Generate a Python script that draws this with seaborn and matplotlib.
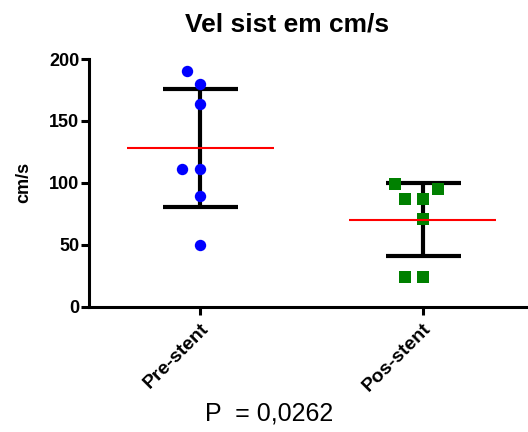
import numpy as np
import pandas as pd
import matplotlib
matplotlib.use("Agg")
import matplotlib.pyplot as plt
import seaborn as sns

# values
groups = ["Pre-stent", "Pos-stent"]
pre_values = [190, 180, 164, 111, 111, 89, 50]
pos_values = [99, 95, 87, 87, 71, 24, 24]
group_means = [128, 70]
group_sds = [47.5, 29.5]
y_ticks = [0, 50, 100, 150, 200]
title_text = "Vel sist em cm/s"
p_text = "P  = 0,0262"

df = pd.DataFrame({
    "group": ["Pre-stent"] * len(pre_values) + ["Pos-stent"] * len(pos_values),
    "value": pre_values + pos_values,
})

sns.set_style("ticks")
plt.rcParams["font.family"] = ["Liberation Sans", "DejaVu Sans"]
plt.rcParams.update({"text.color": "black", "axes.labelcolor": "black",
                     "xtick.color": "black", "ytick.color": "black",
                     "axes.edgecolor": "black"})

fig = plt.figure(figsize=(5.28, 4.32), dpi=100)
ax = fig.add_axes([89 / 528, 1 - 306.5 / 432, (534 - 89) / 528, (306.5 - 59) / 432])

# swarm laid out with a wider spacing (like the original scatter), then markers shrunk
sns.swarmplot(data=df[df.group == "Pre-stent"], x="group", y="value", order=groups,
              color="#0000FF", marker="o", size=12.5, linewidth=0, ax=ax)
sns.swarmplot(data=df[df.group == "Pos-stent"], x="group", y="value", order=groups,
              color="#008000", marker="s", size=12.5, linewidth=0, ax=ax)
ax.set_xlim(-0.5, 1.5)
ax.set_ylim(0, 200)
fig.canvas.draw()
for coll in ax.collections:
    if "draw" in coll.__dict__:
        del coll.draw
    coll.set_sizes([8.2 ** 2])
    coll.set_zorder(3)

# mean and SD
xs = np.arange(len(groups))
ax.errorbar(xs, group_means, yerr=group_sds, fmt="none", ecolor="black",
            elinewidth=3, capsize=27, capthick=3, zorder=2)
ax.hlines(group_means, xs - 0.33, xs + 0.33, colors="red", linewidth=1.5, zorder=5)

ax.set_yticks(y_ticks)
ax.set_xlabel("")
ax.set_ylabel("cm/s", fontsize=13, fontweight="bold", labelpad=12)
ax.set_title(title_text, fontsize=19, fontweight="bold", pad=20, x=0.445)

for side in ["top", "right"]:
    ax.spines[side].set_visible(False)
for side in ["left", "bottom"]:
    ax.spines[side].set_linewidth(2.2)
ax.tick_params(width=2.2, length=6, pad=1)
ax.tick_params(axis="y", labelsize=13)
for lab in ax.get_yticklabels():
    lab.set_fontweight("bold")
ax.set_xticks(xs)
ax.set_xticklabels(groups, rotation=45, ha="right", rotation_mode="anchor",
                   fontweight="bold", fontsize=14)
ax.tick_params(axis="x", pad=4)

fig.text(269 / 528, 1 - 414 / 432, p_text, fontsize=18, ha="center", va="center")

fig.savefig("out.png", dpi=100)
